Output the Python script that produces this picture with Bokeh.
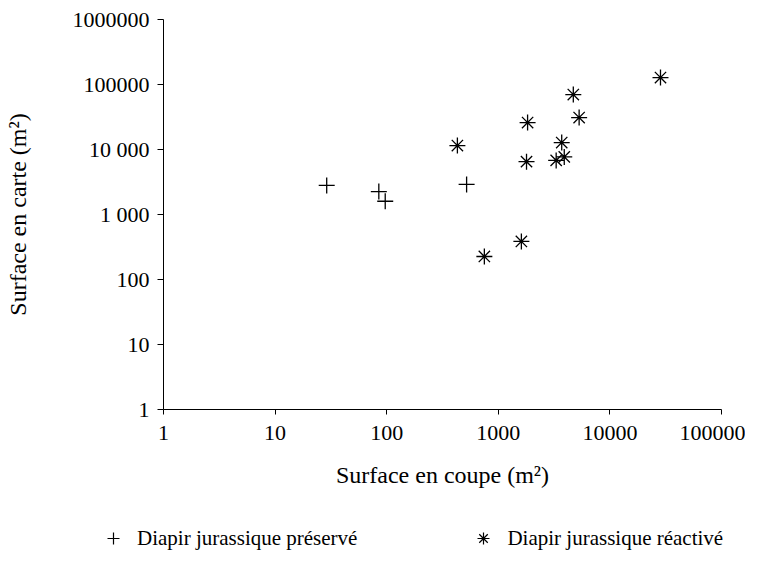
from bokeh.plotting import figure
from bokeh.models import FixedTicker, Legend, LegendItem, ColumnDataSource
from bokeh.embed import file_html
from bokeh.resources import INLINE

# Diapir jurassique préservé
pres_coupe = [29, 85, 97, 520]
pres_carte = [2800, 2250, 1600, 2900]

# Diapir jurassique réactivé
react_coupe = [28400, 4700, 5300, 1830, 430, 3700, 1790, 3300, 3900, 1610, 750]
react_carte = [128000, 70000, 31000, 26000, 11500, 12800, 6500, 6800, 7700, 385, 226]

x_ticks = [1, 10, 100, 1000, 10000, 100000]
x_labels = ["1", "10", "100", "1000", "10000", "100000"]
y_ticks = [1, 10, 100, 1000, 10000, 100000, 1000000]
y_labels = ["1", "10", "100", "1 000", "10 000", "100000", "1000000"]
series_names = ["Diapir jurassique préservé", "Diapir jurassique réactivé"]

FONT = "Liberation Serif"
FS_TICK = "22px"
FS_TITLE = "24px"
FS_LEG = "21px"

p = figure(x_axis_type="log", y_axis_type="log",
           x_range=(1, 100000), y_range=(1, 1000000),
           output_backend="svg", toolbar_location=None,
           frame_width=558, frame_height=390,
           min_border_left=163, min_border_top=19, min_border_right=24,
           min_border_bottom=100)

p.outline_line_color = None
p.xgrid.visible = False
p.ygrid.visible = False

src_p = ColumnDataSource(dict(x=pres_coupe, y=pres_carte))
src_r = ColumnDataSource(dict(x=react_coupe, y=react_carte))
p.scatter("x", "y", source=src_p, marker="cross", size=16,
          line_color="black", line_width=1.3)
p.scatter("x", "y", source=src_r, marker="asterisk", size=16,
          line_color="black", line_width=1.3)

for ax, ticks, labels in ((p.xaxis[0], x_ticks, x_labels), (p.yaxis[0], y_ticks, y_labels)):
    ax.ticker = FixedTicker(ticks=ticks, minor_ticks=[])
    ax.major_label_overrides = {t: l for t, l in zip(ticks, labels)}
    ax.axis_line_color = "black"
    ax.axis_line_width = 1
    ax.major_tick_line_color = "black"
    ax.major_tick_in = 0
    ax.minor_tick_line_color = None
    ax.major_label_text_font = FONT
    ax.major_label_text_font_size = FS_TICK
    ax.major_label_text_color = "black"
    ax.axis_label_text_font = FONT
    ax.axis_label_text_font_size = FS_TITLE
    ax.axis_label_text_font_style = "normal"
    ax.axis_label_text_color = "black"

p.xaxis.major_tick_out = 5
p.yaxis.major_tick_out = 6
p.xaxis.major_label_standoff = 11
p.yaxis.major_label_standoff = 8
p.xaxis.axis_label = "Surface en coupe (m²)"
p.yaxis.axis_label = "Surface en carte (m²)"
p.xaxis.axis_label_standoff = 19
p.yaxis.axis_label_standoff = 39

# Separate legend strip below the chart
lf = figure(width=745, height=54, output_backend="svg", toolbar_location=None,
            x_axis_location=None, y_axis_location=None,
            min_border=0, x_range=(0, 1), y_range=(0, 1))
lf.outline_line_color = None
lf.xgrid.visible = False
lf.ygrid.visible = False
lr1 = lf.scatter(x=[5], y=[5], marker="cross", size=16, line_color="black", line_width=1.2)
lr2 = lf.scatter(x=[5], y=[5], marker="asterisk", size=16, line_color="black", line_width=1.2)
legend = Legend(items=[LegendItem(label=series_names[0], renderers=[lr1]),
                       LegendItem(label=series_names[1], renderers=[lr2])],
                orientation="horizontal", location=(98, 10),
                glyph_width=30, glyph_height=30, label_standoff=9,
                spacing=111, padding=0, margin=0,
                border_line_color=None, background_fill_alpha=0,
                label_text_font=FONT, label_text_font_size=FS_LEG,
                label_text_color="black")
lf.add_layout(legend, "center")

open("out.html", "w").write(file_html([p, lf], INLINE))
